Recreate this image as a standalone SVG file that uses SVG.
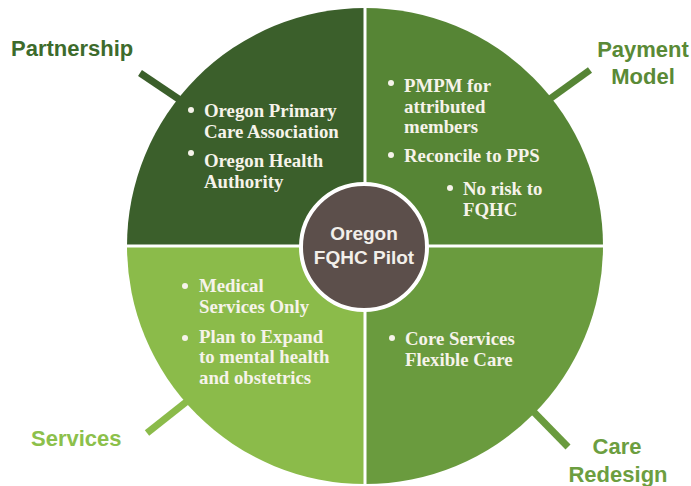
<svg xmlns="http://www.w3.org/2000/svg" width="691" height="486" viewBox="0 0 691 486">
<style>
.lbl{font-family:"Liberation Sans",Arial,sans-serif;font-weight:bold;font-size:22px}
.body{font-family:"Liberation Serif","Times New Roman",serif;font-weight:bold;font-size:18.8px;fill:#f6f3ea}
.ctr{font-family:"Liberation Sans",Arial,sans-serif;font-weight:bold;font-size:19px;fill:#f2efea;text-anchor:middle}
.dot{fill:#f6f3ea}
.tick{stroke-width:7;fill:none}
</style>
<rect width="691" height="486" fill="#ffffff"/>
<g id="connectors">
<line class="tick" x1="140" y1="73" x2="195" y2="110" stroke="#3b5f2b"/>
<line class="tick" x1="590" y1="70" x2="540" y2="106" stroke="#568535"/>
<line class="tick" x1="147" y1="433" x2="195" y2="395" stroke="#8bbb4a"/>
<line class="tick" x1="568" y1="447" x2="525" y2="403" stroke="#6a9b3e"/>
</g>
<g id="partnership">
<path d="M365,246 L127,246 A238,238 0 0 1 365,8 Z" fill="#3b5f2b"/>
<text class="lbl" x="11" y="56" fill="#3d6b2c">Partnership</text>
<circle class="dot" cx="191" cy="110" r="3"/>
<text class="body" x="204" y="117">Oregon Primary</text>
<text class="body" x="204" y="138">Care Association</text>
<circle class="dot" cx="191" cy="153" r="3"/>
<text class="body" x="204" y="167">Oregon Health</text>
<text class="body" x="204" y="188">Authority</text>
</g>
<g id="payment">
<path d="M365,246 L365,8 A238,238 0 0 1 603,246 Z" fill="#568535"/>
<text class="lbl" x="643" y="57" fill="#5a8a36" text-anchor="middle">Payment</text>
<text class="lbl" x="643" y="84" fill="#5a8a36" text-anchor="middle">Model</text>
<circle class="dot" cx="391" cy="83" r="3"/>
<text class="body" x="404" y="92">PMPM for</text>
<text class="body" x="404" y="113">attributed</text>
<text class="body" x="404" y="133">members</text>
<circle class="dot" cx="391" cy="155" r="3"/>
<text class="body" x="404" y="162">Reconcile to PPS</text>
<circle class="dot" cx="450" cy="188" r="3"/>
<text class="body" x="463" y="195">No risk to</text>
<text class="body" x="463" y="216">FQHC</text>
</g>
<g id="services">
<path d="M365,246 L365,484 A238,238 0 0 1 127,246 Z" fill="#8bbb4a"/>
<text class="lbl" x="31" y="446" fill="#8cc04b">Services</text>
<circle class="dot" cx="185" cy="286" r="3"/>
<text class="body" x="199" y="292">Medical</text>
<text class="body" x="199" y="313">Services Only</text>
<circle class="dot" cx="185" cy="338" r="3"/>
<text class="body" x="199" y="343">Plan to Expand</text>
<text class="body" x="199" y="363">to mental health</text>
<text class="body" x="199" y="384">and obstetrics</text>
</g>
<g id="care-redesign">
<path d="M365,246 L603,246 A238,238 0 0 1 365,484 Z" fill="#6a9b3e"/>
<text class="lbl" x="617" y="454" fill="#6c9e40" text-anchor="middle">Care</text>
<text class="lbl" x="618" y="482" fill="#6c9e40" text-anchor="middle">Redesign</text>
<circle class="dot" cx="392" cy="338" r="3"/>
<text class="body" x="405" y="345">Core Services</text>
<text class="body" x="405" y="366">Flexible Care</text>
</g>
<g id="separators">
<line x1="365" y1="0" x2="365" y2="486" stroke="#ffffff" stroke-width="3"/>
<line x1="120" y1="246" x2="610" y2="246" stroke="#ffffff" stroke-width="3"/>
</g>
<g id="center">
<circle cx="364" cy="247" r="63" fill="#5c4f4b" stroke="#ffffff" stroke-width="4"/>
<text class="ctr" x="364" y="240">Oregon</text>
<text class="ctr" x="364" y="264">FQHC Pilot</text>
</g>
</svg>
